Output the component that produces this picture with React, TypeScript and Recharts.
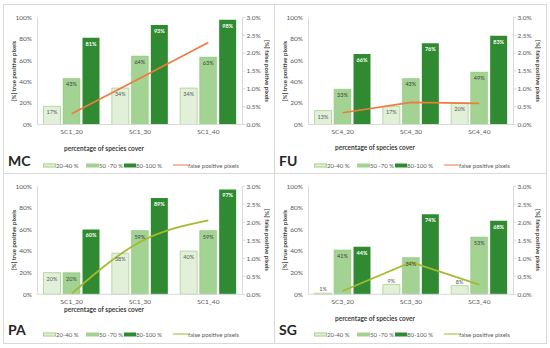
import React from "react";
import { ComposedChart, Bar, Line, XAxis, YAxis, LabelList } from "recharts";

const mcCategories = ["SC1_20", "SC1_30", "SC1_40"];
const mcLow = [17, 34, 34];
const mcMid = [43, 64, 63];
const mcHigh = [81, 93, 98];
const mcFalse = [0.3, 1.3, 2.3];

const fuCategories = ["SC4_20", "SC4_30", "SC4_40"];
const fuLow = [13, 17, 20];
const fuMid = [33, 43, 49];
const fuHigh = [66, 76, 83];
const fuFalse = [0.33, 0.62, 0.59];

const paCategories = ["SC1_20", "SC1_30", "SC1_40"];
const paLow = [20, 38, 40];
const paMid = [20, 59, 59];
const paHigh = [60, 89, 97];
const paFalse = [0.02, 1.45, 2.05];

const sgCategories = ["SC3_20", "SC3_30", "SC3_40"];
const sgLow = [1, 9, 8];
const sgMid = [41, 34, 53];
const sgHigh = [44, 74, 68];
const sgFalse = [0.09, 0.89, 0.27];

const leftTicks = [0, 20, 40, 60, 80, 100];
const rightTicks = [0, 0.5, 1, 1.5, 2, 2.5, 3];
const legendLabels = ["20-40 %", "50 -70 %", "80-100 %", "false positive pixels"];

const FONT = "Lato, 'Open Sans', sans-serif";
const GRID = "#d9d9d9";
const TEXT = "#595959";
const LIGHT = "#e2f0d9";
const LIGHT_EDGE = "#a9d18e";
const MID = "#a3d393";
const DARK = "#2f8a31";

const makeLabel = (color: string, bold: boolean) => (props: any) => {
  const { x, y, width, height, value } = props;
  const inside = height > 10;
  return (
    <text
      x={x + width / 2}
      y={inside ? y + 6 : y - 4}
      textAnchor="middle"
      dominantBaseline="central"
      fontSize={5.5}
      fontWeight={bold ? 700 : 400}
      fill={color}
      fontFamily={FONT}>
      {value}%
    </text>
  );
};

type PanelProps = {
  name: string;
  categories: string[];
  low: number[];
  mid: number[];
  high: number[];
  fp: number[];
  lineColor: string;
  curve: "linear" | "monotone";
  left: number;
  top: number;
  width: number;
  height: number;
  plotTop: number;
  plotBottom: number;
  titleY: number;
};

const Panel = (p: PanelProps) => {
  const data = p.categories.map((c, i) => ({
    name: c,
    low: p.low[i],
    mid: p.mid[i],
    high: p.high[i],
    fp: p.fp[i],
  }));
  const midY = (p.plotTop + p.plotBottom) / 2;
  const legendX = [40, 83, 121, 170];
  return (
    <div
      style={{
        position: "absolute",
        left: p.left,
        top: p.top,
        width: p.width,
        height: p.height,
        fontFamily: FONT,
      }}>
      <ComposedChart
        width={p.width}
        height={p.height}
        data={data}
        margin={{
          top: p.plotTop,
          left: 4.5,
          right: p.width - 239.5 - 28,
          bottom: p.height - p.plotBottom - 16,
        }}
        barSize={17}
        barGap={2.5}
        barCategoryGap="8%">
        <XAxis
          dataKey="name"
          height={16}
          stroke={GRID}
          tickLine={false}
          tickSize={3}
          tickMargin={2}
          tick={{ fontSize: 6.5, fill: TEXT, fontFamily: FONT }}
        />
        <YAxis
          yAxisId="l"
          width={30}
          domain={[0, 100]}
          ticks={leftTicks}
          interval={0}
          stroke={GRID}
          tickLine={false}
          tickSize={3}
          tickMargin={2.5}
          tickFormatter={(v) => `${v}%`}
          tick={{ fontSize: 6.5, fill: TEXT, fontFamily: FONT }}
        />
        <YAxis
          yAxisId="r"
          orientation="right"
          width={28}
          domain={[0, 3]}
          ticks={rightTicks}
          interval={0}
          stroke={GRID}
          tickSize={2.5}
          tickMargin={1.5}
          tickFormatter={(v) => `${v.toFixed(1)}%`}
          tick={{ fontSize: 6.5, fill: TEXT, fontFamily: FONT }}
        />
        <Bar
          yAxisId="l"
          dataKey="low"
          fill={LIGHT}
          stroke={LIGHT_EDGE}
          strokeWidth={0.8}
          isAnimationActive={false}>
          <LabelList dataKey="low" content={makeLabel(TEXT, false)} />
        </Bar>
        <Bar
          yAxisId="l"
          dataKey="mid"
          fill={MID}
          stroke="#8cc47a"
          strokeWidth={0.5}
          isAnimationActive={false}>
          <LabelList dataKey="mid" content={makeLabel("#404040", false)} />
        </Bar>
        <Bar
          yAxisId="l"
          dataKey="high"
          fill={DARK}
          isAnimationActive={false}>
          <LabelList dataKey="high" content={makeLabel("#ffffff", true)} />
        </Bar>
        <Line
          yAxisId="r"
          dataKey="fp"
          type={p.curve}
          stroke={p.lineColor}
          strokeWidth={1.7}
          dot={false}
          isAnimationActive={false}
        />
      </ComposedChart>

      <div
        style={{
          position: "absolute",
          left: 10,
          top: midY,
          transform: "translate(-50%, -50%) rotate(-90deg)",
          whiteSpace: "nowrap",
          fontSize: 6,
          fontWeight: 700,
          color: "#404040",
        }}>
        [%] true positive pixels
      </div>
      <div
        style={{
          position: "absolute",
          left: 264,
          top: midY,
          transform: "translate(-50%, -50%) rotate(90deg)",
          whiteSpace: "nowrap",
          fontSize: 6,
          fontWeight: 700,
          color: "#404040",
        }}>
        [%] false positive pixels
      </div>
      <div
        style={{
          position: "absolute",
          left: 101,
          top: p.titleY,
          transform: "translate(-50%, -50%)",
          whiteSpace: "nowrap",
          fontSize: 6.5,
          fontWeight: 700,
          color: "#404040",
        }}>
        percentage of species cover
      </div>
      <div
        style={{
          position: "absolute",
          left: 5,
          top: 156,
          transform: "translateY(-50%)",
          fontSize: 14,
          fontWeight: 700,
          color: "#262626",
        }}>
        {p.name}
      </div>
      {legendLabels.map((label, i) => (
        <div
          key={label}
          style={{
            position: "absolute",
            left: legendX[i],
            top: 161,
            transform: "translateY(-50%)",
            display: "flex",
            alignItems: "center",
            whiteSpace: "nowrap",
            fontSize: 6,
            color: TEXT,
          }}>
          {i < 3 ? (
            <span
              style={{
                display: "inline-block",
                width: i === 2 ? 12 : 13,
                height: 4,
                boxSizing: "border-box",
                background: [LIGHT, MID, DARK][i],
                border: i === 0 ? `0.8px solid ${LIGHT_EDGE}` : "none",
              }}
            />
          ) : (
            <span
              style={{
                display: "inline-block",
                width: 15,
                height: 1.7,
                background: p.lineColor,
              }}
            />
          )}
          <span>{label}</span>
        </div>
      ))}
    </div>
  );
};

export default function App() {
  return (
    <div
      style={{
        position: "absolute",
        left: 0,
        top: 0,
        width: 550,
        height: 348,
        background: "#ffffff",
      }}>
      <div
        style={{
          position: "absolute",
          left: 3,
          top: 4,
          width: 544,
          height: 340,
          border: `1px solid ${GRID}`,
          boxSizing: "border-box",
        }}
      />
      <div style={{ position: "absolute", left: 274, top: 4, width: 1, height: 340, background: GRID }} />
      <div style={{ position: "absolute", left: 3, top: 173, width: 544, height: 1, background: GRID }} />
      <Panel
        name="MC"
        categories={mcCategories}
        low={mcLow}
        mid={mcMid}
        high={mcHigh}
        fp={mcFalse}
        lineColor="#f07b3f"
        curve="linear"
        left={3}
        top={4}
        width={271}
        height={169}
        plotTop={13.5}
        plotBottom={120.5}
        titleY={144}
      />
      <Panel
        name="FU"
        categories={fuCategories}
        low={fuLow}
        mid={fuMid}
        high={fuHigh}
        fp={fuFalse}
        lineColor="#f07b3f"
        curve="linear"
        left={274}
        top={4}
        width={273}
        height={169}
        plotTop={13.5}
        plotBottom={120.5}
        titleY={143}
      />
      <Panel
        name="PA"
        categories={paCategories}
        low={paLow}
        mid={paMid}
        high={paHigh}
        fp={paFalse}
        lineColor="#a6b92e"
        curve="monotone"
        left={3}
        top={173}
        width={271}
        height={171}
        plotTop={13.2}
        plotBottom={121.3}
        titleY={136}
      />
      <Panel
        name="SG"
        categories={sgCategories}
        low={sgLow}
        mid={sgMid}
        high={sgHigh}
        fp={sgFalse}
        lineColor="#a6b92e"
        curve="linear"
        left={274}
        top={173}
        width={273}
        height={171}
        plotTop={13.2}
        plotBottom={121.3}
        titleY={145}
      />
    </div>
  );
}
